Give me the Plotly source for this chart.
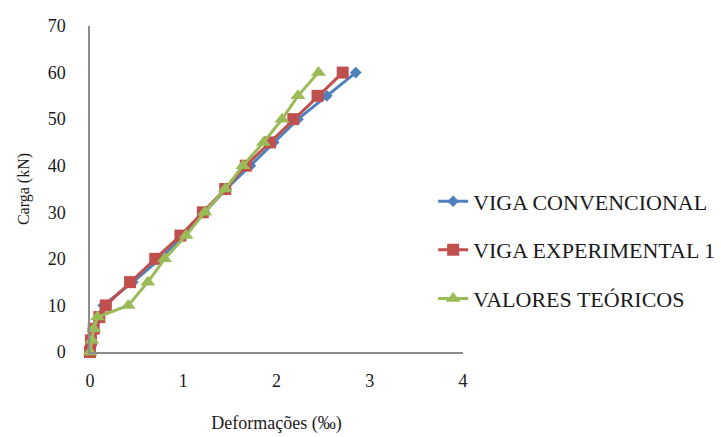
import plotly.graph_objects as go

# Carga (kN) x deformação (‰)
carga_conv = [0, 5, 10, 15, 20, 25, 30, 35, 40, 45, 50, 55, 60]
def_conv = [0.0, 0.03, 0.14, 0.46, 0.75, 1.00, 1.23, 1.46, 1.72, 1.97, 2.23, 2.54, 2.85]

carga_exp = [0, 2.5, 5, 7.5, 10, 15, 20, 25, 30, 35, 40, 45, 50, 55, 60]
def_exp = [0.0, 0.01, 0.04, 0.10, 0.17, 0.43, 0.70, 0.97, 1.21, 1.45, 1.67, 1.93, 2.18, 2.44, 2.71]

carga_teo = [0, 2.5, 5, 7.5, 10, 15, 20, 25, 30, 35, 40, 45, 50, 55, 60]
def_teo = [0.0, 0.02, 0.04, 0.08, 0.41, 0.62, 0.80, 1.03, 1.23, 1.45, 1.64, 1.86, 2.06, 2.23, 2.45]

series = [
    ("VIGA CONVENCIONAL", def_conv, carga_conv, "#4F81BD", "diamond", 9),
    ("VIGA EXPERIMENTAL 1", def_exp, carga_exp, "#C0504D", "square", 12),
    ("VALORES TEÓRICOS", def_teo, carga_teo, "#9BBB59", "triangle-up", 13),
]

fig = go.Figure()
for i, (name, xs, ys, color, symbol, size) in enumerate(series):
    fig.add_trace(go.Scatter(
        x=xs, y=ys, name=name, mode="lines+markers",
        line=dict(color=color, width=3),
        marker=dict(symbol=symbol, size=size, color=color),
        cliponaxis=False, legendgroup=str(i),
    ))

font_family = "Liberation Serif"
fig.update_layout(
    width=721, height=437,
    margin=dict(l=90, r=258, t=26, b=85, autoexpand=False),
    paper_bgcolor="white", plot_bgcolor="white",
    font=dict(family=font_family, size=18, color="#1a1a1a"),
    showlegend=True,
    legend=dict(
        x=0.92, y=0.313, xanchor="left", yanchor="middle",
        bgcolor="rgba(0,0,0,0)", tracegroupgap=17,
        font=dict(family=font_family, size=22, color="#1a1a1a"),
        itemwidth=30,
    ),
    xaxis=dict(
        range=[0, 4], tickvals=[0, 1, 2, 3, 4], showgrid=False, zeroline=False,
        showline=True, linecolor="#8c8c8c", linewidth=1.5,
        ticks="outside", ticklen=12, tickcolor="rgba(0,0,0,0)",
        tickfont=dict(size=18),
        title=dict(text="Deformações (‰)", standoff=26, font=dict(size=18)),
    ),
    yaxis=dict(
        range=[0, 70], tickvals=list(range(0, 71, 10)), showgrid=False, zeroline=False,
        showline=True, linecolor="#8c8c8c", linewidth=1.5,
        ticks="outside", ticklen=19, tickcolor="rgba(0,0,0,0)",
        tickfont=dict(size=18),
        title=dict(text="Carga (kN)", standoff=14, font=dict(size=16)),
    ),
)

fig.write_html("out.html")
